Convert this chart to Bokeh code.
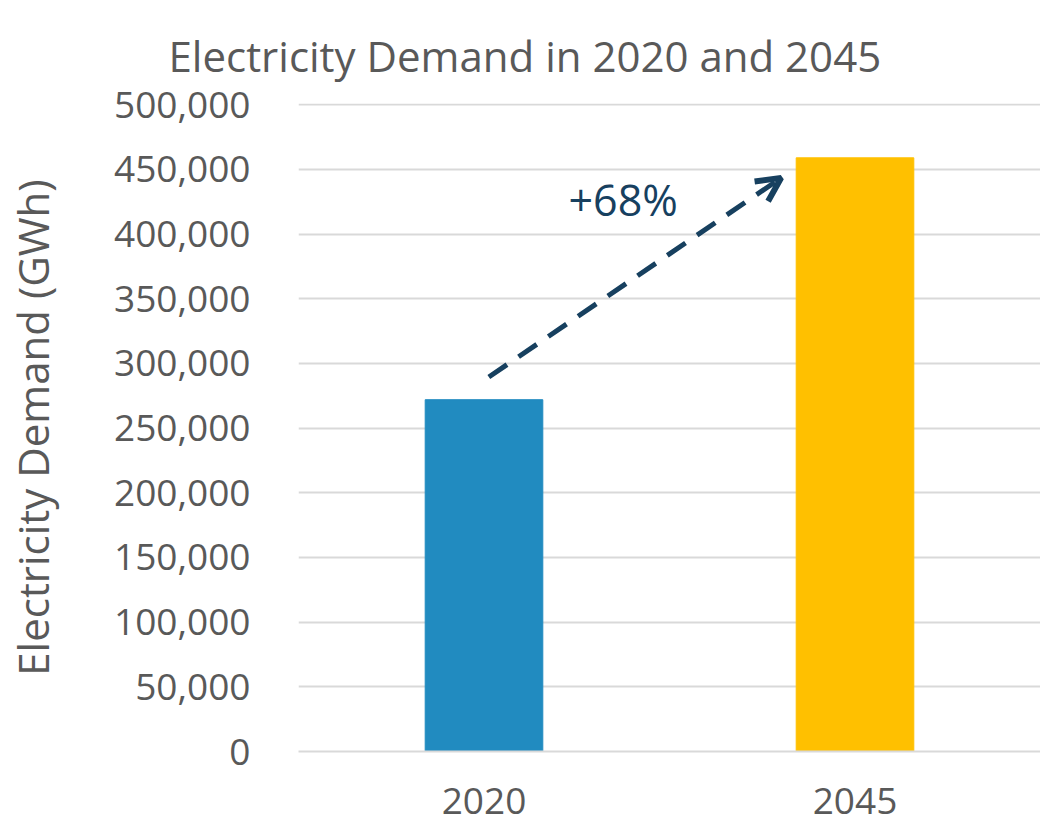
from bokeh.plotting import figure
from bokeh.models import Arrow, OpenHead, FixedTicker, NumeralTickFormatter, Range1d, Label, ColumnDataSource
from bokeh.embed import file_html
from bokeh.resources import INLINE

# Data
years = ["2020", "2045"]
demand_gwh = [272000, 459000]
bar_colors = ["#218BC0", "#FFC000"]
yticks = [0, 50000, 100000, 150000, 200000, 250000, 300000, 350000, 400000, 450000, 500000]
growth_label = "+68%"
title_text = "Electricity Demand in 2020 and 2045"

FONT = "Open Sans"
TXT = "#595959"

xpos = [i + 0.5 for i in range(len(years))]
src = ColumnDataSource(dict(x=xpos, top=demand_gwh, color=bar_colors))

p = figure(width=1040, height=823, output_backend="svg", toolbar_location=None,
           x_range=Range1d(0, len(years)), y_range=Range1d(0, 501000),
           min_border_left=296, min_border_right=0, min_border_top=103, min_border_bottom=72,
           title=title_text)
p.outline_line_color = None
p.background_fill_color = "white"

p.title.text_font = FONT
p.title.text_font_size = "42px"
p.title.text_font_style = "normal"
p.title.text_color = TXT
p.title.align = "left"
p.title.offset = -130
p.title.standoff = 40

p.vbar(x="x", top="top", width=0.317, color="color", source=src)

# axes
p.xaxis.ticker = FixedTicker(ticks=xpos)
p.xaxis.major_label_overrides = {x: y for x, y in zip(xpos, years)}
p.yaxis.ticker = FixedTicker(ticks=yticks)
p.yaxis.formatter = NumeralTickFormatter(format="0,0")
for ax in (p.xaxis, p.yaxis):
    ax.major_label_text_font = FONT
    ax.major_label_text_font_size = "37px"
    ax.major_label_text_color = TXT
    ax.major_tick_line_color = None
    ax.minor_tick_line_color = None
p.yaxis.axis_line_color = None
p.xaxis.axis_line_color = "#D9D9D9"
p.xaxis.axis_line_width = 2
p.xaxis.major_label_standoff = 30
p.yaxis.major_label_standoff = 42
p.yaxis.axis_label = "Electricity Demand (GWh)"
p.yaxis.axis_label_text_font = FONT
p.yaxis.axis_label_text_font_size = "42px"
p.yaxis.axis_label_text_font_style = "normal"
p.yaxis.axis_label_text_color = TXT
p.yaxis.axis_label_standoff = 50

p.xgrid.grid_line_color = None
p.ygrid.grid_line_color = "#D9D9D9"
p.ygrid.grid_line_width = 2

# growth arrow annotation
arrow_col = "#17405F"
p.add_layout(Arrow(x_start=0.513, y_start=289500, x_end=1.301, y_end=443500,
                   line_color=arrow_col, line_width=5, line_dash="22 14",
                   end=OpenHead(size=24, line_color=arrow_col, line_width=6)))
p.add_layout(Label(x=0.875, y=427000, text=growth_label, text_align="center",
                   text_baseline="middle", text_font=FONT, text_font_size="43px",
                   text_color=arrow_col))

open("out.html", "w").write(file_html(p, INLINE))
